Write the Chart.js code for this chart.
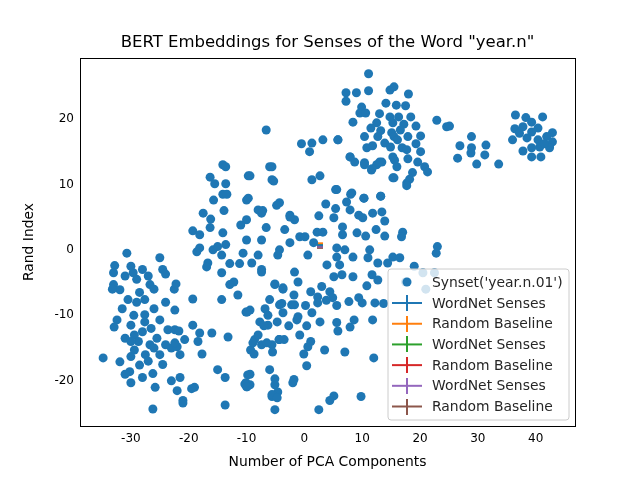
<!DOCTYPE html>
<html>
<head>
<meta charset="utf-8">
<script src="https://cdn.jsdelivr.net/npm/chart.js@4/dist/chart.umd.min.js"></script>
<style>body{margin:0;background:#fff}</style>
</head>
<body>
<canvas id="c" width="640" height="480"></canvas>
<script>
// Punkte der Embeddings (x = PCA1, y = PCA2)
const linksCluster = [[-30.7,-0.5],[-32.8,-2.4],[-29.6,-3.5],[-28,-3],[-33,-5.3],[-31.9,-6.1],[-26.7,-5.3],[-25,-1.2],[-24.5,-3],[-27.6,-7.6],[-30.5,-7.6],[-32.4,-10.7],[-32.9,-11.8],[-27.6,-9.9],[-29.4,-13],[-27.6,-11],[-25,-10.7],[-23.6,-12.2],[-22.4,-9.2],[-26.7,-14.5],[-25,-16],[-29.4,-15.3],[-30,-16.3],[-30.2,-18.6],[-28.5,-17.6],[-31.9,-17.1],[-34.8,-16.5],[-26.2,-18.9],[-30,-20.3],[-25.8,-21],[-26.2,-24.3],[-21.5,-19.5],[-21,-23],[-22.4,-12.2],[-20.7,-13.7],[-33.2,-6],[-31,-4],[-29,-4.5],[-27,-4],[-26,-6],[-28.5,-6.5],[-31.5,-9],[-29.5,-10],[-28,-12.5],[-26.5,-12],[-25.5,-13.5],[-24,-14.5],[-26,-15],[-27.5,-16],[-28.7,-14],[-31,-13.5],[-30,-11.5],[-27,-17],[-24.5,-17.5],[-23,-20],[-22,-21.5],[-31,-19],[-28,-19.5],[-30,-14],[-26,-9],[-24,-8],[-33,-3.5],[-30,-2.5],[-22.5,-6],[-23,-15],[-21.5,-16],[-29,-8],[-24,-3.7],[-22.2,-5.2]];
const mitteLinks = [[-14.1,13],[-13.6,12.7],[-16.3,11.1],[-15.5,10.1],[-13.6,10.1],[-14.1,8.5],[-13.4,8.5],[-15.7,7.6],[-13.9,6],[-17.5,5.6],[-16.2,4.7],[-16.3,3.4],[-19.3,2.9],[-18.1,2.3],[-14.1,2.6],[-18.6,-0.3],[-18.1,0.3],[-15.8,0],[-15,0.5],[-13.6,0.8],[-16.7,-2],[-14.3,-3.5],[-12.9,-2.1],[-11.2,-2.1],[-12.2,-4.9],[-10,1.5],[-10,4.6],[-10,7.6],[-9.7,11.3],[-10.6,-0.5],[-19.3,-7.5],[-14.3,-7.6],[-10.1,-9.5],[-19.3,-11.5],[-18.1,-12.7],[-16,-12.7],[-18.4,-14],[-13.2,-13.3],[-17.7,-15.9],[-15,-18.3],[-13.7,-19.5],[-10.1,-20.3],[-10,-20.9],[-13.7,-23.7],[-21,-23.4],[-19,-21],[-19.5,-21.2],[-22,-14.8],[-22.4,-14.2],[-21.7,-12.4],[-7.4,5.6],[-6.6,3.4],[-7.4,1.5],[-8,-0.8],[-9.1,-2],[-7.4,-3],[-5.1,-5.3],[-3.7,-5.8],[-9.4,-9.2],[-7.7,-11],[-6.3,-11.5],[-8.6,-13.7],[-7.4,-14.5],[-9.3,-15.3],[-5.6,-14.5],[-4.3,-13.7],[-6,-18.3],[-5.1,-20.6],[-4.6,-21.7],[-5.6,-22.4],[-1.8,-19.8],[-9.8,-19.1],[-9.4,-20.6],[-6.6,18.3],[-6,12.7],[-5.6,10.7],[-8,6.1],[-2.5,5.3],[-1.7,4.6],[-3.4,3.1],[-0.8,2],[-2.5,1.1],[-4.6,-0.8],[-4.3,-8.4],[-1.7,-8.4],[-1.3,-10.7],[-0.8,-13],[-3.7,-9.6],[-6,-7.6],[-11.5,-6.9],[-12.9,-5.3],[-11,3.8],[-14.3,-0.8],[-16.9,-2.6],[-9.4,11.3],[-5.6,12.7],[-5.3,10.5],[-9.7,7.9],[-4.3,7.2],[-4.8,6.8],[-7.2,6]];
const mitte = [[-0.5,16.2],[1.3,16.3],[0.9,15],[3.2,16.8],[5.8,16.8],[7.9,14.2],[8.7,13.4],[10.4,13.3],[11.6,12.2],[12.5,13],[13.4,13.4],[15.6,13.7],[15.3,11],[17.7,10.2],[1.3,10.7],[2.7,11.3],[5.4,9.2],[8.2,8.7],[7.3,7.3],[7.9,6.1],[10.3,7.9],[13.2,8.2],[3.7,7],[5.4,6.3],[5.1,4.9],[2.5,5.2],[9.4,5.3],[10.1,4.9],[11.8,5.6],[13.4,5.8],[13.9,4.4],[-2.5,5],[6.6,3.5],[6.6,2.3],[9.1,2.6],[10.6,2.1],[12.4,3.1],[13.9,2.1],[17,2.7],[16.8,2],[0.1,2],[1.6,1.1],[2.2,2.7],[3.2,2.7],[0.6,-0.8],[5.6,0.3],[7,0],[5.6,-1.1],[8.4,-1.1],[11.3,0],[11,-1.2],[12.7,-2],[14.4,-2],[15.3,-1.1],[16.5,-1.2],[3.9,-2.3],[6.1,-2.3],[8.4,-4.1],[-1.7,-3.4],[-4.3,0],[-7.4,-3.4],[5.1,-4.1],[6.5,-3.8],[11.7,-3.8],[12.7,-4.6],[10.8,-5.5],[17.5,-4.9],[-5.1,-5.2],[-3.7,-6],[-1.1,-4.9],[1.1,-6.4],[3,-5.6],[2.3,-7.2],[4.4,-6.4],[4.9,-7.3],[3.8,-7.7],[2.3,-8.1],[5.6,-8.5],[7.7,-7.9],[9.4,-7.3],[10,-8.1],[12.2,-8.1],[13.7,-8.2],[-1.8,-6.9],[-3.9,-8.2],[-2.2,-8.4],[0.2,-8.5],[1.3,-9.6],[-1.1,-10.2],[-6.8,-9],[-6.3,-10],[-9.9,-9.5],[-4.7,-11],[-7,-11.6],[-2.7,-11.6],[0.4,-11.6],[2.7,-11],[5.6,-11.1],[5.8,-12.4],[7.9,-11.8],[8.6,-10.7],[11.8,-10.7],[-8,-13],[-8.9,-14.2],[-8.7,-15.9],[-6.5,-14.2],[-5.5,-15.6],[-4.4,-13.7],[-3.5,-13.7],[1.1,-14],[0.6,-14.8],[-0.1,-15.9],[0.4,-17.7],[3.5,-15.3],[7,-15.6],[12,-16.5],[-9.4,-19],[-10.3,-20.5],[-9.9,-20.9],[-5.1,-19.7],[-5.6,-22.1],[-4.7,-22.6],[-5.1,-24.4],[-2,-20.3],[5.1,-22.3],[4.4,-23],[2.5,-24.4],[9.8,-22.4],[20.5,-3.5],[22.5,-3.5],[21,-6],[19,-2.5],[23,0.5],[22.8,-0.5]];
const obenCluster = [[11.1,26.9],[7.2,24],[9,24],[7.2,22.7],[11.1,24.3],[14.8,24.4],[15.5,24.9],[18,23.8],[9.9,21.8],[9.6,20.9],[10.6,20.9],[14.1,22.4],[15.9,22.1],[17.5,22],[8.4,19.5],[13,20.8],[14.8,20.3],[16.3,20.3],[18.4,20.3],[12.5,19.4],[15.3,19.4],[17.2,19.2],[19.3,18.9],[11.5,18.6],[13.2,18.2],[15.1,17.9],[16.6,18.3],[10.4,17.3],[12.7,17.3],[15.5,17.3],[17.9,17.3],[20.1,17.4],[5.8,16.8],[13.9,16.3],[16.1,16.8],[16.9,15.6],[19.3,16.2],[10.8,15.6],[11.8,15.9],[14.9,15.7],[17.7,15.3],[20.1,15],[7.9,14.2],[15.3,14.2],[17.9,13.9],[10.4,13],[13,13.4],[11.7,12.4],[16,12.7],[19.6,13.4],[20.8,12.7],[21.3,11.9],[15.5,11],[18.7,11.8],[18.2,10.8],[17.7,9.8],[5.6,9.2],[8,8.5],[10.3,7.9],[13.2,8.2]];
const rechtsCluster = [[22.9,19.8],[24.6,18.8],[25.1,18.9],[28.9,17.3],[26.9,15.9],[28.9,15.6],[31.4,16],[26.5,14],[28.8,14.8],[31.2,14.5],[29.8,13.1],[33.6,13.1],[36.5,20.6],[38.3,20.2],[39.3,19.5],[41.2,20.3],[36.4,18.5],[37.8,18.8],[39.3,18],[40.4,18.6],[42.9,17.9],[36,16.8],[38.5,17.1],[40.4,16.8],[41.9,17.3],[42.9,16.5],[40.7,15.7],[42.4,15.9],[37.8,15.1],[39.3,15.6],[39.3,14.2],[40.9,14.2],[42.4,15.6],[37.2,17.8],[41.5,16.2]];
const allePunkte = [...linksCluster, ...mitteLinks, ...mitte, ...obenCluster, ...rechtsCluster];

// Fehlerbalken-Serien (fast identische Mittelwerte)
const fehlerLabels = ["WordNet Senses", "Random Baseline", "WordNet Senses", "Random Baseline", "WordNet Senses", "Random Baseline"];
const fehlerFarben = ["#1f77b4", "#ff7f0e", "#2ca02c", "#d62728", "#9467bd", "#8c564b"];
const fehlerY = [0.7, 1.0, 0.8, 0.7, 0.5, 0.3];
const fehlerX = 2.7;

const xTicks = [-30, -20, -10, 0, 10, 20, 30, 40];
const yTicks = [-20, -10, 0, 10, 20];

const font = "DejaVu Sans";

// kleines Symbol wie bei matplotlib errorbar: Linie mit senkrechtem Strich
function fehlerSymbol(farbe) {
    const c = document.createElement("canvas");
    c.width = 30; c.height = 16;
    const g = c.getContext("2d");
    g.strokeStyle = farbe; g.lineWidth = 2;
    g.beginPath(); g.moveTo(0, 8); g.lineTo(30, 8); g.moveTo(15, 0); g.lineTo(15, 16); g.stroke();
    return c;
}

const rahmenUndLegende = {
    id: "rahmen",
    afterDraw(chart) {
        const ctx = chart.ctx, a = chart.chartArea;
        ctx.save();
        ctx.strokeStyle = "#000"; ctx.lineWidth = 1;
        ctx.strokeRect(a.left + 0.5, a.top + 0.5, a.right - a.left, a.bottom - a.top);
        // Titel und Achsentitel
        ctx.fillStyle = "#000"; ctx.font = "16.5px '" + font + "'";
        ctx.textAlign = "center"; ctx.textBaseline = "middle";
        ctx.fillText('BERT Embeddings for Senses of the Word "year.n"', (a.left + a.right) / 2, 43);
        ctx.font = "13.9px '" + font + "'";
        ctx.fillText("Number of PCA Components", (a.left + a.right) / 2, 462);
        ctx.save();
        ctx.translate(29, (a.top + a.bottom) / 2);
        ctx.rotate(-Math.PI / 2);
        ctx.fillText("Rand Index", 0, 0);
        ctx.restore();
        // Legende
        const lx = 388, ly = 269, lw = 181, lh = 151;
        ctx.fillStyle = "rgba(255,255,255,0.8)";
        ctx.strokeStyle = "#cccccc";
        ctx.beginPath(); ctx.roundRect(lx, ly, lw, lh, 3); ctx.fill(); ctx.stroke();
        ctx.font = "13.9px '" + font + "'"; ctx.textAlign = "left";
        ctx.fillStyle = "#1f77b4";
        ctx.beginPath(); ctx.arc(407, 282, 4.5, 0, Math.PI * 2); ctx.fill();
        ctx.fillStyle = "#262626";
        ctx.fillText("Synset('year.n.01')", 432, 283);
        fehlerLabels.forEach((t, i) => {
            const y = 303 + i * 20.7;
            ctx.drawImage(fehlerSymbol(fehlerFarben[i]), 392, y - 8, 30, 16);
            ctx.fillStyle = "#262626";
            ctx.fillText(t, 432, y + 1);
        });
        ctx.restore();
    }
};

const datasets = [{
    data: allePunkte.map(p => ({ x: p[0], y: p[1] })),
    backgroundColor: "#1f77b4", borderWidth: 0, pointRadius: 4.5
}];
fehlerY.forEach((y, i) => datasets.push({
    data: [{ x: fehlerX, y: y }],
    pointStyle: "line", pointRadius: 3, borderColor: fehlerFarben[i], borderWidth: 2
}));

new Chart(document.getElementById("c"), {
    type: "scatter",
    data: { datasets },
    options: {
        responsive: false, animation: false,
        layout: { padding: { top: 58, right: 65, left: 0, bottom: 0 } },
        plugins: { legend: { display: false }, tooltip: { enabled: false } },
        scales: {
            x: {
                min: -38.8, max: 46.8,
                afterBuildTicks: s => { s.ticks = xTicks.map(v => ({ value: v })); },
                afterFit: s => { s.height = 54; },
                grid: { display: false, drawTicks: true, tickLength: 4, tickColor: "#000" },
                border: { color: "#000" },
                ticks: { color: "#000", font: { family: font, size: 12 }, padding: 2 },
                title: { display: false }
            },
            y: {
                min: -26.9, max: 29.3,
                afterBuildTicks: s => { s.ticks = yTicks.map(v => ({ value: v })); },
                afterFit: s => { s.width = 80; },
                grid: { display: false, drawTicks: true, tickLength: 4, tickColor: "#000" },
                border: { color: "#000" },
                ticks: { color: "#000", font: { family: font, size: 12 }, padding: 2 },
                title: { display: false }
            }
        }
    },
    plugins: [rahmenUndLegende]
});
</script>
</body>
</html>
